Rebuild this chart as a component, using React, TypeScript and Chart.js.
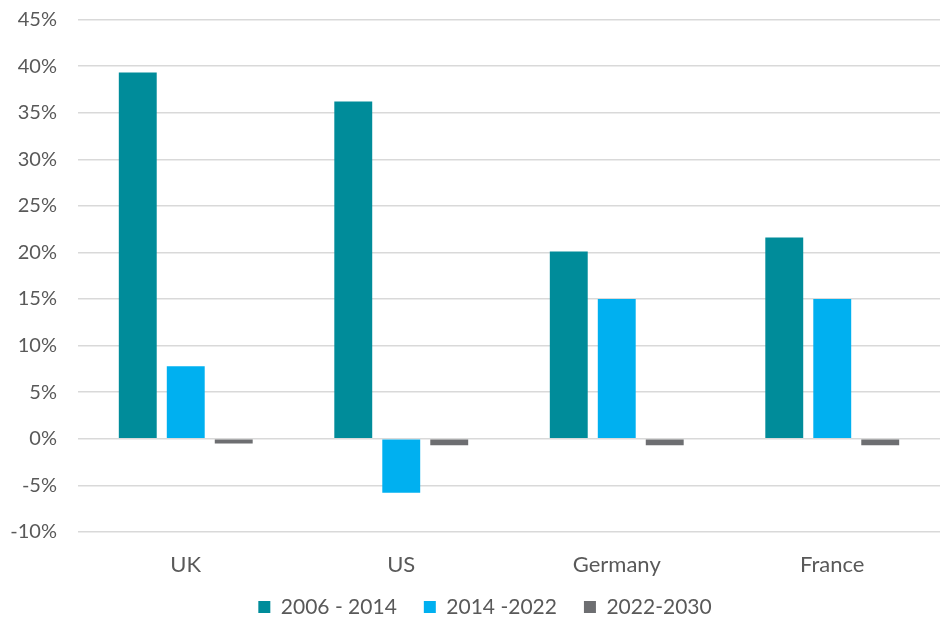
import React, { useEffect, useRef } from "react";
import { Chart, registerables } from "chart.js";

Chart.register(...registerables);

const categories = ["UK", "US", "Germany", "France"];
const seriesNames = ["2006 - 2014", "2014 -2022", "2022-2030"];
const values2006_2014 = [39.3, 36.2, 20.1, 21.6];
const values2014_2022 = [7.8, -5.8, 15.0, 15.0];
const values2022_2030 = [-0.5, -0.7, -0.7, -0.7];
const seriesColors = ["#008C9A", "#00B0F0", "#6D6E71"];
const yMin = -10;
const yMax = 45;
const yStep = 5;

const FONT = "Lato, 'Open Sans', sans-serif";
const TEXT = "#595959";

const legendPlacePlugin = {
  id: "legendPlace",
  beforeInit(chart: any) {
    const legend = chart.legend;
    if (!legend) return;
    const orig = legend.fit;
    legend.fit = function () {
      orig.call(this);
      this.height = 45;
    };
  },
  afterLayout(chart: any) {
    const l = chart.legend;
    if (!l) return;
    l.top -= 8.5;
    l.bottom -= 8.5;
    l.left += 15;
    l.right += 15;
  },
};

export default function App() {
  const ref = useRef<HTMLCanvasElement | null>(null);
  useEffect(() => {
    document.body.style.margin = "0";
    const ctx = ref.current!;
    const chart = new Chart(ctx, {
      type: "bar",
      data: {
        labels: categories,
        datasets: [values2006_2014, values2014_2022, values2022_2030].map((d, i) => ({
          label: seriesNames[i],
          data: d,
          backgroundColor: seriesColors[i],
          borderWidth: 0,
          categoryPercentage: 0.668,
          barPercentage: 0.79,
        })),
      },
      plugins: [legendPlacePlugin],
      options: {
        animation: false,
        responsive: false,
        maintainAspectRatio: false,
        layout: { padding: { top: 19.5, right: 2, left: 0, bottom: 0 } },
        plugins: {
          tooltip: { enabled: false },
          legend: {
            position: "bottom",
            labels: {
              color: TEXT,
              font: { family: FONT, size: 21 },
              boxWidth: 12,
              boxHeight: 12,
              padding: 27,
            },
          },
        },
        scales: {
          x: {
            grid: { display: false, drawTicks: false },
            border: { display: false },
            ticks: { color: TEXT, font: { family: FONT, size: 22 }, padding: 20 },
            afterFit: (s: any) => {
              s.height = 46;
            },
          },
          y: {
            min: yMin,
            max: yMax,
            grid: { color: "#D9D9D9", lineWidth: 1.5, drawTicks: false },
            border: { display: false },
            ticks: {
              stepSize: yStep,
              color: TEXT,
              font: { family: FONT, size: 20 },
              padding: 21,
              callback: (v: any) => `${v}%`,
            },
            afterFit: (s: any) => {
              s.width = 78;
              s.paddingTop = 0;
              s.paddingBottom = 0;
            },
          },
        },
      },
    });
    return () => chart.destroy();
  }, []);
  return (
    <div style={{ width: 942, height: 623, position: "relative" }}>
      <canvas ref={ref} width={942} height={623} style={{ display: "block" }} />
    </div>
  );
}
